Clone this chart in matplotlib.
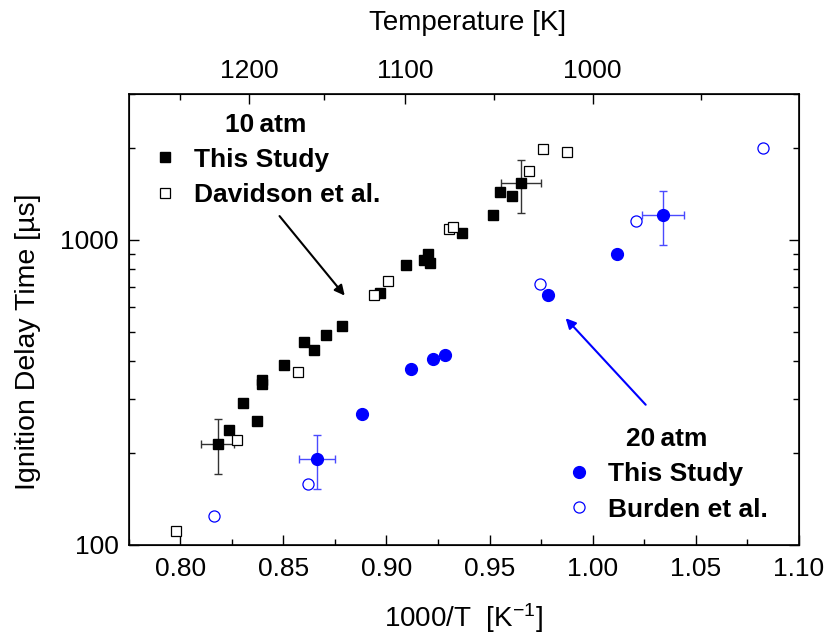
import numpy as np
import matplotlib
matplotlib.use('Agg')
import matplotlib.pyplot as plt
from matplotlib.ticker import FixedLocator, NullFormatter, FuncFormatter

plt.rcParams['font.family'] = ['Liberation Sans', 'DejaVu Sans']
plt.rcParams['mathtext.default'] = 'regular'

BLUE = '#0000ff'

# 10 atm, this study
x10 = [0.8183, 0.8236, 0.8305, 0.8374, 0.8397, 0.8397, 0.8502, 0.8602, 0.8647,
       0.8707, 0.8783, 0.8971, 0.9094, 0.9183, 0.9202, 0.9210, 0.9365, 0.9515,
       0.9552, 0.9607, 0.9654]
y10 = [214, 238, 292, 254, 346, 338, 388, 463, 436,
       489, 520, 670, 826, 860, 898, 839, 1049, 1209,
       1438, 1389, 1528]

# 10 atm, Davidson et al.
x_dav = [0.7982, 0.8277, 0.8571, 0.8940, 0.9008, 0.9302, 0.9323, 0.9693, 0.9760, 0.9877]
y_dav = [111, 220, 368, 661, 733, 1081, 1103, 1677, 1989, 1942]

# 20 atm, this study
x20 = [0.8663, 0.8884, 0.9120, 0.9226, 0.9286, 0.9783, 1.0120, 1.0340]
y20 = [191, 269, 378, 408, 418, 659, 900, 1204]

# 20 atm, Burden et al.
x_bur = [0.8165, 0.8618, 0.9746, 1.0212, 1.0828]
y_bur = [124, 158, 718, 1153, 2003]

# error bars (centre, minus, plus)
err10_x = [0.8183, 0.9654]
err10_y = [214, 1528]
err10_xlo = [0.0083, 0.0097]
err10_xhi = [0.0080, 0.0096]
err10_ylo = [43, 309]
err10_yhi = [44, 297]

err20_x = [0.8663, 1.0340]
err20_y = [191, 1204]
err20_xlo = [0.0085, 0.0102]
err20_xhi = [0.0087, 0.0105]
err20_ylo = [39, 241]
err20_yhi = [39, 239]

temp_major = [1200, 1100, 1000]
temp_minor = [1250, 1150, 1050, 950]

arrow10 = ((0.8798, 656), (0.8482, 1195))
arrow20 = ((0.9869, 553), (1.0257, 288))

fig = plt.figure(figsize=(8.27, 6.34), dpi=100)
ax = fig.add_axes([0.1554, 0.1404, 0.8107, 0.7113])

ax.errorbar(err10_x, err10_y, xerr=[err10_xlo, err10_xhi], yerr=[err10_ylo, err10_yhi],
            fmt='none', ecolor='#333333', elinewidth=1.0, capsize=3, capthick=1.0, zorder=2)
ax.errorbar(err20_x, err20_y, xerr=[err20_xlo, err20_xhi], yerr=[err20_ylo, err20_yhi],
            fmt='none', ecolor='#4a4aff', elinewidth=1.0, capsize=3, capthick=1.0, zorder=2)

h1, = ax.plot(x10, y10, 's', color='black', ms=7.5, ls='none', zorder=3, label='This Study')
h2, = ax.plot(x_dav, y_dav, 's', mfc='white', mec='black', mew=0.9, ms=7, ls='none',
              zorder=3, label='Davidson et al.')
h3, = ax.plot(x20, y20, 'o', color=BLUE, ms=8.5, ls='none', zorder=3, label='This Study')
h4, = ax.plot(x_bur, y_bur, 'o', mfc='white', mec=BLUE, mew=0.9, ms=8, ls='none',
              zorder=3, label='Burden et al.')

ax.annotate('', xy=arrow10[0], xytext=arrow10[1],
            arrowprops=dict(arrowstyle='-|>', color='black', lw=1.5, mutation_scale=15,
                            shrinkA=0, shrinkB=0))
ax.annotate('', xy=arrow20[0], xytext=arrow20[1],
            arrowprops=dict(arrowstyle='-|>', color=BLUE, lw=1.5, mutation_scale=15,
                            shrinkA=0, shrinkB=0))

ax.set_xlim(0.775, 1.10)
ax.set_yscale('log')
ax.set_ylim(100, 3000)

ax.xaxis.set_major_locator(FixedLocator([0.80, 0.85, 0.90, 0.95, 1.00, 1.05, 1.10]))
ax.xaxis.set_minor_locator(FixedLocator(np.arange(0.775, 1.10, 0.025)))
ax.xaxis.set_major_formatter(FuncFormatter(lambda v, p: f'{v:.2f}'))
ax.yaxis.set_major_locator(FixedLocator([100, 1000]))
ax.yaxis.set_minor_locator(FixedLocator([200, 300, 400, 500, 600, 700, 800, 900, 2000, 3000]))
ax.yaxis.set_major_formatter(FuncFormatter(lambda v, p: f'{int(v)}'))
ax.yaxis.set_minor_formatter(NullFormatter())

ax.tick_params(which='both', direction='in', labelsize=19, width=1.0)
ax.tick_params(which='major', length=7)
ax.tick_params(which='minor', length=4)
ax.tick_params(axis='x', which='both', top=False, pad=9)
ax.tick_params(axis='y', which='both', right=True, pad=7)
for sp in ax.spines.values():
    sp.set_linewidth(1.2)

ax.set_xlabel('1000/T  [K$^{-1}$]', fontsize=20)
ax.xaxis.set_label_coords(0.5, -0.125)
ax.set_ylabel('Ignition Delay Time [\u00b5s]', fontsize=20.5)
ax.yaxis.set_label_coords(-0.130, 0.451)

ax2 = ax.twiny()
ax2.set_xlim(ax.get_xlim())
ax2.set_xticks([1000 / t for t in temp_major])
ax2.set_xticklabels([str(t) for t in temp_major])
ax2.set_xticks([1000 / t for t in temp_minor], minor=True)
ax2.tick_params(which='both', direction='in', labelsize=19, width=1.0, pad=8)
ax2.tick_params(which='major', length=7)
ax2.tick_params(which='minor', length=4)
ax2.set_xlabel('Temperature [K]', fontsize=20)
ax2.xaxis.set_label_coords(0.505, 1.141)

leg1 = ax.legend(handles=[h1, h2], title='10\u2009atm', loc='upper left',
                 bbox_to_anchor=(0.015, 0.988), frameon=False, borderpad=0,
                 prop={'weight': 'bold', 'size': 19}, handlelength=1.0,
                 handletextpad=0.6, labelspacing=0.42)
leg1.get_title().set_fontweight('bold')
leg1.get_title().set_fontsize(19)
ax.add_artist(leg1)

leg2 = ax.legend(handles=[h3, h4], title='20\u2009atm', loc='upper left',
                 bbox_to_anchor=(0.633, 0.290), frameon=False, borderpad=0,
                 prop={'weight': 'bold', 'size': 19}, handlelength=1.0,
                 handletextpad=0.6, labelspacing=0.42)
leg2.get_title().set_fontweight('bold')
leg2.get_title().set_fontsize(19)

fig.savefig('out.png', dpi=100)
